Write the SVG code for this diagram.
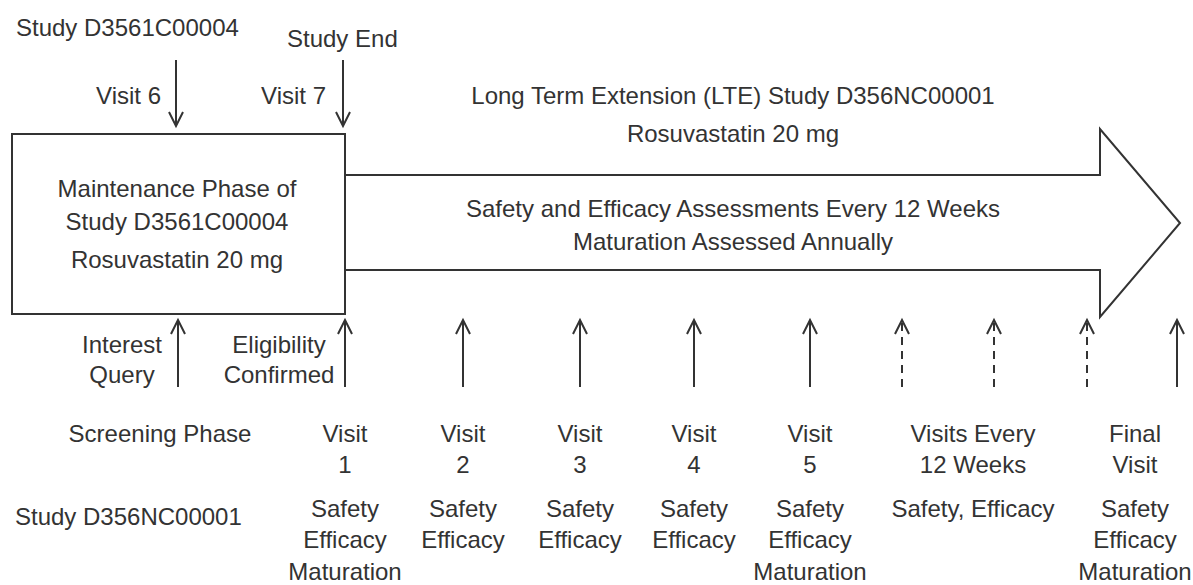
<svg xmlns="http://www.w3.org/2000/svg" width="1193" height="585" viewBox="0 0 1193 585">
<defs>
<style>
text{font-family:"Liberation Sans",Arial,sans-serif;font-size:24px;fill:#333}
.m{text-anchor:middle}
.ln{stroke:#333;stroke-width:2;fill:none}
.dash{stroke-dasharray:8 6}
</style>
<marker id="ah" markerUnits="userSpaceOnUse" markerWidth="20" markerHeight="20" viewBox="-2 -2 20 20" refX="15" refY="8" orient="auto" overflow="visible">
<path d="M1,1 L15,8 L1,15" fill="none" stroke="#333" stroke-width="2" stroke-dasharray="none"/>
</marker>
</defs>
<rect width="1193" height="585" fill="#fff"/>

<g id="top-labels">
<text x="16" y="36">Study D3561C00004</text>
<text x="287" y="47">Study End</text>
<text x="161" y="104" text-anchor="end">Visit 6</text>
<text x="326" y="104" text-anchor="end">Visit 7</text>
</g>

<g id="maintenance-box">
<rect x="12" y="134" width="333" height="180" class="ln"/>
<text x="177" y="197" class="m">Maintenance Phase of</text>
<text x="177" y="230" class="m">Study D3561C00004</text>
<text x="177" y="268" class="m">Rosuvastatin 20 mg</text>
</g>

<g id="lte-arrow">
<path d="M345,175 L1100,175 L1100,129 L1180,223 L1100,317 L1100,270 L345,270" class="ln"/>
<text x="733" y="104" class="m">Long Term Extension (LTE) Study D356NC00001</text>
<text x="733" y="142" class="m">Rosuvastatin 20 mg</text>
<text x="733" y="217" class="m">Safety and Efficacy Assessments Every 12 Weeks</text>
<text x="733" y="250" class="m">Maturation Assessed Annually</text>
</g>

<g id="connectors">
<line x1="176" y1="60" x2="176" y2="126" class="ln" marker-end="url(#ah)"/>
<line x1="343" y1="60" x2="343" y2="126" class="ln" marker-end="url(#ah)"/>
<line x1="178" y1="387" x2="178" y2="320" class="ln" marker-end="url(#ah)"/>
<line x1="345" y1="387" x2="345" y2="320" class="ln" marker-end="url(#ah)"/>
<line x1="463" y1="387" x2="463" y2="320" class="ln" marker-end="url(#ah)"/>
<line x1="580" y1="387" x2="580" y2="320" class="ln" marker-end="url(#ah)"/>
<line x1="694" y1="387" x2="694" y2="320" class="ln" marker-end="url(#ah)"/>
<line x1="810" y1="387" x2="810" y2="320" class="ln" marker-end="url(#ah)"/>
<line x1="902" y1="387" x2="902" y2="320" class="ln dash" marker-end="url(#ah)"/>
<line x1="994" y1="387" x2="994" y2="320" class="ln dash" marker-end="url(#ah)"/>
<line x1="1087" y1="387" x2="1087" y2="320" class="ln dash" marker-end="url(#ah)"/>
<line x1="1177" y1="387" x2="1177" y2="320" class="ln" marker-end="url(#ah)"/>
</g>

<g id="screening-labels">
<text x="122" y="353" class="m">Interest</text>
<text x="122" y="383" class="m">Query</text>
<text x="279" y="353" class="m">Eligibility</text>
<text x="279" y="383" class="m">Confirmed</text>
<text x="160" y="442" class="m">Screening Phase</text>
<text x="15" y="525">Study D356NC00001</text>
</g>

<g id="visit-1">
<text x="345" y="442" class="m">Visit</text>
<text x="345" y="473" class="m">1</text>
<text x="345" y="517" class="m">Safety</text>
<text x="345" y="548" class="m">Efficacy</text>
<text x="345" y="580" class="m">Maturation</text>
</g>
<g id="visit-2">
<text x="463" y="442" class="m">Visit</text>
<text x="463" y="473" class="m">2</text>
<text x="463" y="517" class="m">Safety</text>
<text x="463" y="548" class="m">Efficacy</text>
</g>
<g id="visit-3">
<text x="580" y="442" class="m">Visit</text>
<text x="580" y="473" class="m">3</text>
<text x="580" y="517" class="m">Safety</text>
<text x="580" y="548" class="m">Efficacy</text>
</g>
<g id="visit-4">
<text x="694" y="442" class="m">Visit</text>
<text x="694" y="473" class="m">4</text>
<text x="694" y="517" class="m">Safety</text>
<text x="694" y="548" class="m">Efficacy</text>
</g>
<g id="visit-5">
<text x="810" y="442" class="m">Visit</text>
<text x="810" y="473" class="m">5</text>
<text x="810" y="517" class="m">Safety</text>
<text x="810" y="548" class="m">Efficacy</text>
<text x="810" y="580" class="m">Maturation</text>
</g>
<g id="visits-every">
<text x="973" y="442" class="m">Visits Every</text>
<text x="973" y="473" class="m">12 Weeks</text>
<text x="973" y="517" class="m">Safety, Efficacy</text>
</g>
<g id="final-visit">
<text x="1135" y="442" class="m">Final</text>
<text x="1135" y="473" class="m">Visit</text>
<text x="1135" y="517" class="m">Safety</text>
<text x="1135" y="548" class="m">Efficacy</text>
<text x="1135" y="580" class="m">Maturation</text>
</g>
</svg>
